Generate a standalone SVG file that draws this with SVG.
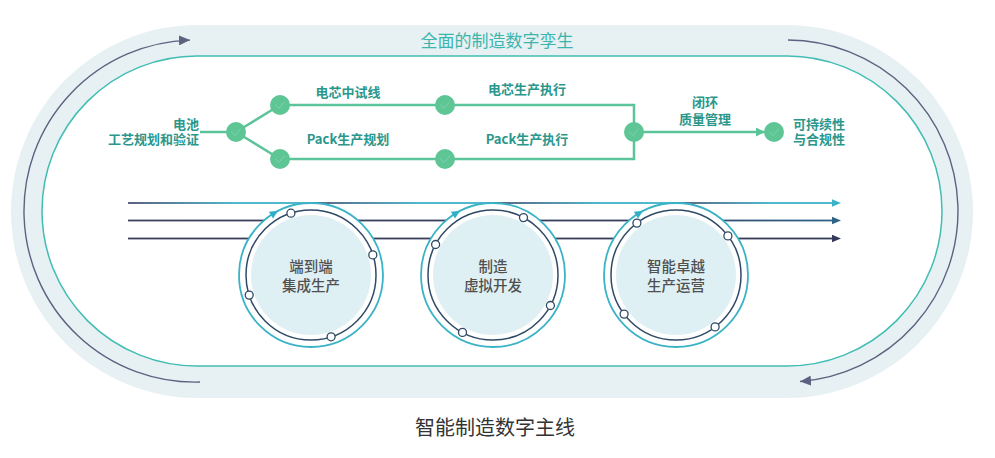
<svg xmlns="http://www.w3.org/2000/svg" width="995" height="458" viewBox="0 0 995 458">
<style>
.band{fill:#e7f0f3}
.inner{fill:#fff;stroke:#41bdb3;stroke-width:1.5}
.loop{fill:none;stroke:#5b6380;stroke-width:1.4}
.title{font-family:"Noto Sans CJK SC","Noto Sans",sans-serif;font-size:17px;fill:#3bb6ad;text-anchor:middle}
.lbl{font-family:"Noto Sans CJK SC","Noto Sans",sans-serif;font-size:13px;font-weight:700;fill:#2b978c}
.mid{text-anchor:middle}
.end{text-anchor:end}
.flow{fill:none;stroke:#5cc49a;stroke-width:2.5}
.node{fill:#5ec595}
.chk{fill:none;stroke:#72cca4;stroke-width:1.3;stroke-linecap:round;stroke-linejoin:round}
.ring{fill:#fff;stroke:#3bb3c6;stroke-width:1.8}
.dring{fill:none;stroke:#2f4a66;stroke-width:1.5}
.core{fill:#dff0f5}
.dot{fill:#fff;stroke:#2f4a66;stroke-width:1.3}
.carr{fill:#2fb0c8}
.ctext{font-family:"Noto Sans CJK SC","Noto Sans",sans-serif;font-size:14.5px;font-weight:500;fill:#505050;text-anchor:middle}
.cap{font-family:"Noto Sans CJK SC","Noto Sans",sans-serif;font-size:20px;fill:#333;text-anchor:middle}
</style>
<defs>
<marker id="loopArrow" markerUnits="userSpaceOnUse" markerWidth="12" markerHeight="10" refX="11" refY="5" orient="auto">
<path d="M0,0 L11,5 L0,10 z" fill="#5b6380"/>
</marker>
<marker id="flowArrow" markerUnits="userSpaceOnUse" markerWidth="9" markerHeight="9" refX="9" refY="4.5" orient="auto">
<path d="M0,0 L9,4.5 L0,9 z" fill="#5cc49a"/>
</marker>
<linearGradient id="topG" x1="0" y1="0" x2="1" y2="0">
<stop offset="0" stop-color="#4a5070"/>
<stop offset="0.6" stop-color="#3eb2c9"/>
<stop offset="1" stop-color="#3eb2c9"/>
</linearGradient>
<linearGradient id="midG" x1="0" y1="0" x2="1" y2="0">
<stop offset="0" stop-color="#3b4160"/>
<stop offset="0.7" stop-color="#343f60"/>
<stop offset="1" stop-color="#2e6388"/>
</linearGradient>
<linearGradient id="botG" x1="0" y1="0" x2="1" y2="0">
<stop offset="0" stop-color="#3b3f5c"/>
<stop offset="1" stop-color="#333a5a"/>
</linearGradient>
<g id="chkmark"><path class="chk" d="M-4.5,0 L-1.2,3.5 L4.5,-3.2"/></g>
</defs>

<g id="twin-band">
<rect class="band" x="11" y="25" width="962" height="373" rx="186.5"/>
<rect class="inner" x="42" y="56" width="900" height="310" rx="155"/>
<text class="title" x="497" y="47">全面的制造数字孪生</text>
</g>

<g id="loop-arrows">
<path class="loop" d="M200,382 A171,171 0 0 1 190,40.1" marker-end="url(#loopArrow)"/>
<path class="loop" d="M788,40 A171,171 0 0 1 800,381.5" marker-end="url(#loopArrow)"/>
</g>

<g id="connectors">
<line class="flow" x1="200" y1="132" x2="236" y2="132"/>
<line class="flow" x1="236" y1="132" x2="280" y2="105"/>
<line class="flow" x1="236" y1="132" x2="280" y2="159"/>
<line class="flow" x1="280" y1="105" x2="445" y2="105"/>
<line class="flow" x1="280" y1="159" x2="445" y2="159"/>
<polyline class="flow" points="445,105 634,105 634,159 445,159"/>
<line class="flow" x1="634" y1="132" x2="765" y2="132" marker-end="url(#flowArrow)"/>
</g>

<g id="node-battery">
<circle class="node" cx="236" cy="132" r="10"/>
<use href="#chkmark" x="236" y="132"/>
<text class="lbl end" x="199" y="129">电池</text>
<text class="lbl end" x="199" y="144">工艺规划和验证</text>
</g>
<g id="node-cell-pilot">
<circle class="node" cx="280" cy="105" r="10"/>
<use href="#chkmark" x="280" y="105"/>
<text class="lbl mid" x="348" y="97">电芯中试线</text>
</g>
<g id="node-pack-plan">
<circle class="node" cx="280" cy="159" r="10"/>
<use href="#chkmark" x="280" y="159"/>
<text class="lbl mid" x="348" y="144">Pack生产规划</text>
</g>
<g id="node-cell-exec">
<circle class="node" cx="445" cy="105" r="10"/>
<use href="#chkmark" x="445" y="105"/>
<text class="lbl mid" x="527" y="94">电芯生产执行</text>
</g>
<g id="node-pack-exec">
<circle class="node" cx="445" cy="159" r="10"/>
<use href="#chkmark" x="445" y="159"/>
<text class="lbl mid" x="527" y="144">Pack生产执行</text>
</g>
<g id="node-quality">
<circle class="node" cx="634" cy="132" r="10"/>
<use href="#chkmark" x="634" y="132"/>
<text class="lbl mid" x="705" y="107">闭环</text>
<text class="lbl mid" x="705" y="124">质量管理</text>
</g>
<g id="node-sustain">
<circle class="node" cx="774" cy="132" r="10"/>
<use href="#chkmark" x="774" y="132"/>
<text class="lbl" x="793" y="129">可持续性</text>
<text class="lbl" x="793" y="144">与合规性</text>
</g>

<g id="thread-lines">
<rect x="128" y="202.1" width="183" height="1.8" fill="url(#topG)"/>
<rect x="311" y="202.1" width="182" height="1.8" fill="url(#topG)"/>
<rect x="493" y="202.1" width="183" height="1.8" fill="url(#topG)"/>
<rect x="676" y="202.1" width="157" height="1.8" fill="url(#topG)"/>
<polygon points="841,203 832,199.3 832,206.7" fill="#3eb2c9"/>
<rect x="128" y="219.6" width="705" height="1.8" fill="url(#midG)"/>
<polygon points="841,220.5 832,216.8 832,224.2" fill="#2e6388"/>
<rect x="128" y="237.6" width="705" height="1.8" fill="url(#botG)"/>
<polygon points="841,238.5 832,234.8 832,242.2" fill="#333a5a"/>
</g>

<g id="circle-e2e">
<circle class="ring" cx="311" cy="275" r="72"/>
<circle class="core" cx="311" cy="275" r="60"/>
<circle class="dring" cx="311" cy="275" r="65"/>
<polygon class="carr" points="0,5 -4,-3.5 4,-3.5" transform="translate(311,275) rotate(-121) translate(72,0)"/>
<circle class="dot" cx="290.9" cy="213.2" r="4"/>
<circle class="dot" cx="372.8" cy="254.9" r="4"/>
<circle class="dot" cx="331.1" cy="336.8" r="4"/>
<circle class="dot" cx="249.2" cy="295.1" r="4"/>
<text class="ctext" x="311" y="272">端到端</text>
<text class="ctext" x="311" y="290.5">集成生产</text>
</g>
<g id="circle-virtual">
<circle class="ring" cx="493" cy="275" r="72"/>
<circle class="core" cx="493" cy="275" r="60"/>
<circle class="dring" cx="493" cy="275" r="65"/>
<polygon class="carr" points="0,5 -4,-3.5 4,-3.5" transform="translate(493,275) rotate(-121) translate(72,0)"/>
<circle class="dot" cx="435.6" cy="244.5" r="4"/>
<circle class="dot" cx="523.5" cy="217.6" r="4"/>
<circle class="dot" cx="550.4" cy="305.5" r="4"/>
<circle class="dot" cx="462.5" cy="332.4" r="4"/>
<text class="ctext" x="493" y="272">制造</text>
<text class="ctext" x="493" y="290.5">虚拟开发</text>
</g>
<g id="circle-ops">
<circle class="ring" cx="676" cy="275" r="72"/>
<circle class="core" cx="676" cy="275" r="60"/>
<circle class="dring" cx="676" cy="275" r="65"/>
<polygon class="carr" points="0,5 -4,-3.5 4,-3.5" transform="translate(676,275) rotate(-121) translate(72,0)"/>
<circle class="dot" cx="636.9" cy="223.1" r="4"/>
<circle class="dot" cx="727.9" cy="235.9" r="4"/>
<circle class="dot" cx="715.1" cy="326.9" r="4"/>
<circle class="dot" cx="624.1" cy="314.1" r="4"/>
<text class="ctext" x="676" y="272">智能卓越</text>
<text class="ctext" x="676" y="290.5">生产运营</text>
</g>

<text class="cap" x="495" y="435">智能制造数字主线</text>
</svg>
